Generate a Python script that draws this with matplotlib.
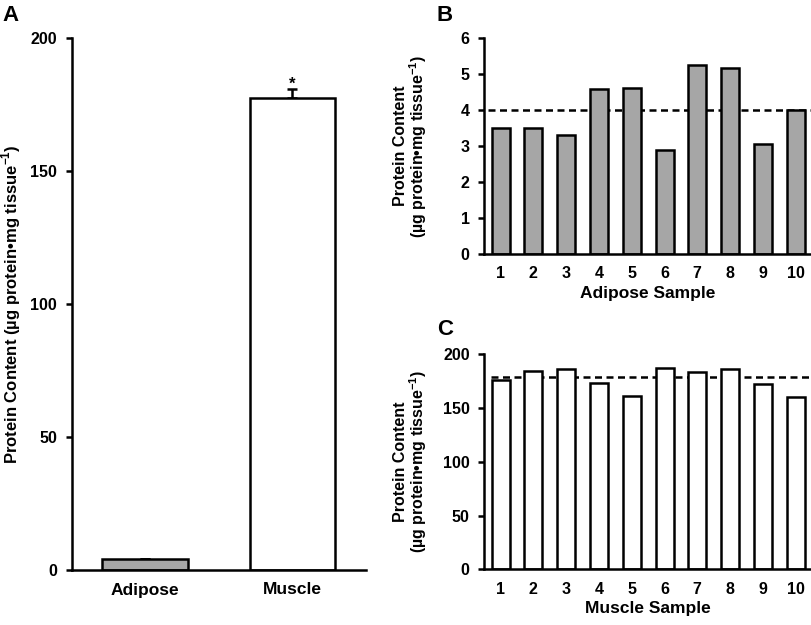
import matplotlib
matplotlib.use("Agg")
import matplotlib.pyplot as plt

plt.rcParams["font.family"] = ["Liberation Sans", "DejaVu Sans"]
plt.rcParams["font.weight"] = "bold"
plt.rcParams["mathtext.fontset"] = "custom"
plt.rcParams["mathtext.rm"] = "Liberation Sans:bold"
plt.rcParams["mathtext.bf"] = "Liberation Sans:bold"

# panel A: group means
groups = ["Adipose", "Muscle"]
group_means = [4.0, 177.3]
group_err = [0.3, 3.4]
group_colors = ["#a6a6a6", "white"]

# panel B: individual adipose samples
samples = list(range(1, 11))
adipose_vals = [3.51, 3.50, 3.30, 4.59, 4.60, 2.89, 5.25, 5.17, 3.06, 4.01]
adipose_ref = 4.0

# panel C: individual muscle samples
muscle_vals = [176.4, 184.2, 186.0, 173.0, 161.2, 187.6, 183.9, 186.4, 172.1, 160.6]
muscle_ref = 178.5

ylab_one = "Protein Content (µg protein•mg tissue$^{-1}$)"
ylab_two = "Protein Content\n(µg protein•mg tissue$^{-1}$)"

fig = plt.figure(figsize=(8.12, 6.25), dpi=100)
axA = fig.add_axes([0.0881, 0.088, 0.3626, 0.8517])
axB = fig.add_axes([0.5964, 0.5936, 0.4036, 0.3456])
axC = fig.add_axes([0.5964, 0.0891, 0.4036, 0.3440])

lw = 1.8
tick_fs = 11.5
dash = (0, (2.8, 1.8))


def style(ax):
    for s in ["top", "right"]:
        ax.spines[s].set_visible(False)
    for s in ["left", "bottom"]:
        ax.spines[s].set_linewidth(lw)
    ax.tick_params(axis="y", direction="out", length=4.5, width=lw,
                   labelsize=tick_fs, pad=6)
    ax.tick_params(axis="x", length=0, labelsize=tick_fs, pad=9)
    for lab in ax.get_xticklabels() + ax.get_yticklabels():
        lab.set_fontweight("bold")


# panel A
xa = range(len(groups))
axA.bar(xa, group_means, width=0.58, color=group_colors, edgecolor="black",
        linewidth=lw, zorder=2)
axA.errorbar(xa, group_means, yerr=[[0, 0], group_err], fmt="none",
             ecolor="black", elinewidth=lw, capsize=3.5, capthick=lw, zorder=1)
axA.text(1, group_means[1] + group_err[1] - 1, "*", ha="center", va="bottom",
         fontsize=12, fontweight="bold")
axA.set_xlim(-0.5, 1.5)
axA.set_ylim(0, 200)
axA.set_yticks([0, 50, 100, 150, 200])
axA.set_xticks(list(xa))
axA.set_xticklabels(groups)
axA.set_ylabel(ylab_one, fontsize=12, fontweight="bold")
axA.yaxis.set_label_coords(-0.165, 0.5)
style(axA)
axA.tick_params(axis="x", labelsize=12.5, pad=9)

# panel B
axB.bar(samples, adipose_vals, width=0.55, color="#a6a6a6", edgecolor="black",
        linewidth=lw, zorder=2)
axB.axhline(adipose_ref, xmin=0.01, xmax=1, color="black", lw=lw,
            linestyle=dash, zorder=1)
axB.set_xlim(0.5, 10.5)
axB.set_ylim(0, 6)
axB.set_yticks(range(0, 7))
axB.set_xticks(samples)
axB.set_xlabel("Adipose Sample", fontsize=12.5, fontweight="bold", labelpad=3)
axB.set_ylabel(ylab_two, fontsize=11.5, fontweight="bold", linespacing=0.95)
axB.yaxis.set_label_coords(-0.17, 0.5)
style(axB)

# panel C
axC.bar(samples, muscle_vals, width=0.55, color="white", edgecolor="black",
        linewidth=lw, zorder=2)
axC.axhline(muscle_ref, xmin=0.02, xmax=1, color="black", lw=lw,
            linestyle=dash, zorder=1)
axC.set_xlim(0.5, 10.5)
axC.set_ylim(0, 200)
axC.set_yticks([0, 50, 100, 150, 200])
axC.set_xticks(samples)
axC.set_xlabel("Muscle Sample", fontsize=12.5, fontweight="bold", labelpad=3)
axC.set_ylabel(ylab_two, fontsize=11.5, fontweight="bold", linespacing=0.95)
axC.yaxis.set_label_coords(-0.17, 0.5)
style(axC)

fig.text(0.003, 0.975, "A", fontsize=16, fontweight="bold", va="center")
fig.text(0.538, 0.975, "B", fontsize=16, fontweight="bold", va="center")
fig.text(0.538, 0.473, "C", fontsize=16, fontweight="bold", va="center")

fig.savefig("out.png", dpi=100)
